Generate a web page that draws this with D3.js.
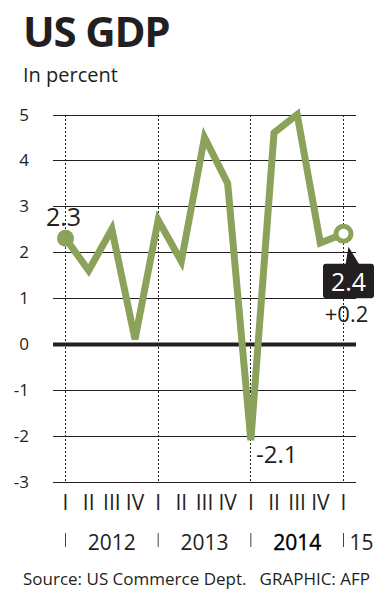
<!DOCTYPE html>
<html>
<head>
<meta charset="utf-8">
<script src="https://cdn.jsdelivr.net/npm/d3@7"></script>
<style>
  body { margin: 0; background: #fff; }
  svg text { font-family: "Open Sans", "Noto Sans", sans-serif; fill: #231f20; }
</style>
</head>
<body>
<svg id="chart" width="391" height="600"></svg>
<script>
// quarterly GDP growth, annualised, in percent
const quarters = ["I", "II", "III", "IV", "I", "II", "III", "IV", "I", "II", "III", "IV", "I"];
const gdp = [2.3, 1.6, 2.5, 0.1, 2.7, 1.8, 4.5, 3.5, -2.1, 4.6, 5.0, 2.2, 2.4];
const years = ["2012", "2013", "2014", "15"];
const yTicks = [5, 4, 3, 2, 1, 0, -1, -2, -3];

const green = "#8ba25b";
const svg = d3.select("#chart");

// scales
const x = d3.scaleLinear().domain([0, 12]).range([65.5, 343.5]);
const y = d3.scaleLinear().domain([-3, 5]).range([481.5, 114.5]);

// title
svg.append("text")
    .attr("x", 23).attr("y", 47)
    .style("font-size", "42px").style("font-weight", "bold")
    .style("letter-spacing", "-1.2px")
    .text("US GDP");
svg.append("text")
    .attr("x", 23).attr("y", 82)
    .style("font-size", "20px")
    .text("In percent");

// horizontal grid
svg.append("g").selectAll("line")
    .data(yTicks)
    .join("line")
    .attr("x1", 53).attr("x2", 356)
    .attr("y1", d => Math.round(y(d)) + 0.5).attr("y2", d => Math.round(y(d)) + 0.5)
    .attr("stroke", "#231f20")
    .attr("stroke-width", d => d === 0 ? 4 : 1);

svg.append("g").selectAll("text")
    .data(yTicks)
    .join("text")
    .attr("x", 29).attr("y", d => y(d) + 6)
    .attr("text-anchor", "end")
    .style("font-size", "17px")
    .text(d => d);

// dotted year separators
const q1s = [0, 4, 8, 12];
svg.append("g").selectAll("line")
    .data(q1s)
    .join("line")
    .attr("x1", d => x(d)).attr("x2", d => x(d))
    .attr("y1", y(5)).attr("y2", y(-3))
    .attr("stroke", "#231f20")
    .attr("stroke-width", 1)
    .attr("stroke-dasharray", "2,2")
    .attr("shape-rendering", "crispEdges");

// the line
const line = d3.line().x((d, i) => x(i)).y(d => y(d));
svg.append("path")
    .datum(gdp)
    .attr("d", line)
    .attr("fill", "none")
    .attr("stroke", green)
    .attr("stroke-width", 7)
    .attr("stroke-linejoin", "miter");

// start and end markers
svg.append("circle")
    .attr("cx", x(0)).attr("cy", y(gdp[0]))
    .attr("r", 8.5).attr("fill", green);
const last = gdp.length - 1;
svg.append("circle")
    .attr("cx", x(last)).attr("cy", y(gdp[last]))
    .attr("r", 7.5).attr("fill", "#fff")
    .attr("stroke", green).attr("stroke-width", 5);

// value labels
svg.append("text")
    .attr("x", 46).attr("y", y(gdp[0]) - 12)
    .style("font-size", "25px")
    .text(gdp[0]);
svg.append("text")
    .attr("x", 256).attr("y", y(gdp[8]) + 23)
    .style("font-size", "24px")
    .text(gdp[8]);

// callout for latest quarter
const cx = x(last), cy = y(gdp[last]);
const callout = svg.append("g");
callout.append("path")
    .attr("d", `M${cx + 5},${cy + 13} L${cx + 2},${cy + 31} L${cx + 16},${cy + 31} Z`)
    .attr("fill", "#231f20");
callout.append("rect")
    .attr("x", cx - 20.5).attr("y", cy + 30)
    .attr("width", 51).attr("height", 34.5)
    .attr("rx", 3)
    .attr("fill", "#231f20");
callout.append("text")
    .attr("x", cx + 5).attr("y", cy + 57)
    .attr("text-anchor", "middle")
    .style("font-size", "25px")
    .style("fill", "#fff")
    .text(gdp[last].toFixed(1));
callout.append("text")
    .attr("x", cx + 3).attr("y", cy + 88)
    .attr("text-anchor", "middle")
    .style("font-size", "22px")
    .text("+" + (gdp[last] - gdp[last - 1]).toFixed(1));

// quarter labels
svg.append("g").selectAll("text")
    .data(quarters)
    .join("text")
    .attr("x", (d, i) => x(i)).attr("y", 510)
    .attr("text-anchor", "middle")
    .style("font-size", "21px")
    .text(d => d);

// year row
svg.append("g").selectAll("line")
    .data(q1s)
    .join("line")
    .attr("x1", d => x(d)).attr("x2", d => x(d))
    .attr("y1", 533).attr("y2", 547)
    .attr("stroke", "#444").attr("stroke-width", 1);

svg.append("g").selectAll("text")
    .data(years)
    .join("text")
    .attr("x", (d, i) => i < 3 ? x(i * 4 + 2) : x(12) + 6)
    .attr("y", 550)
    .attr("text-anchor", (d, i) => i < 3 ? "middle" : "start")
    .style("font-size", "21px")
    .style("fill", (d, i) => i === 2 ? "#000" : null)
    .style("stroke", (d, i) => i === 2 ? "#000" : null)
    .style("stroke-width", (d, i) => i === 2 ? 0.4 : null)
    .text(d => d);

// source line
svg.append("text")
    .attr("x", 23).attr("y", 585)
    .style("font-size", "17px")
    .text("Source: US Commerce Dept.");
svg.append("text")
    .attr("x", 370).attr("y", 585)
    .attr("text-anchor", "end")
    .style("font-size", "17px")
    .text("GRAPHIC: AFP");
</script>
</body>
</html>
